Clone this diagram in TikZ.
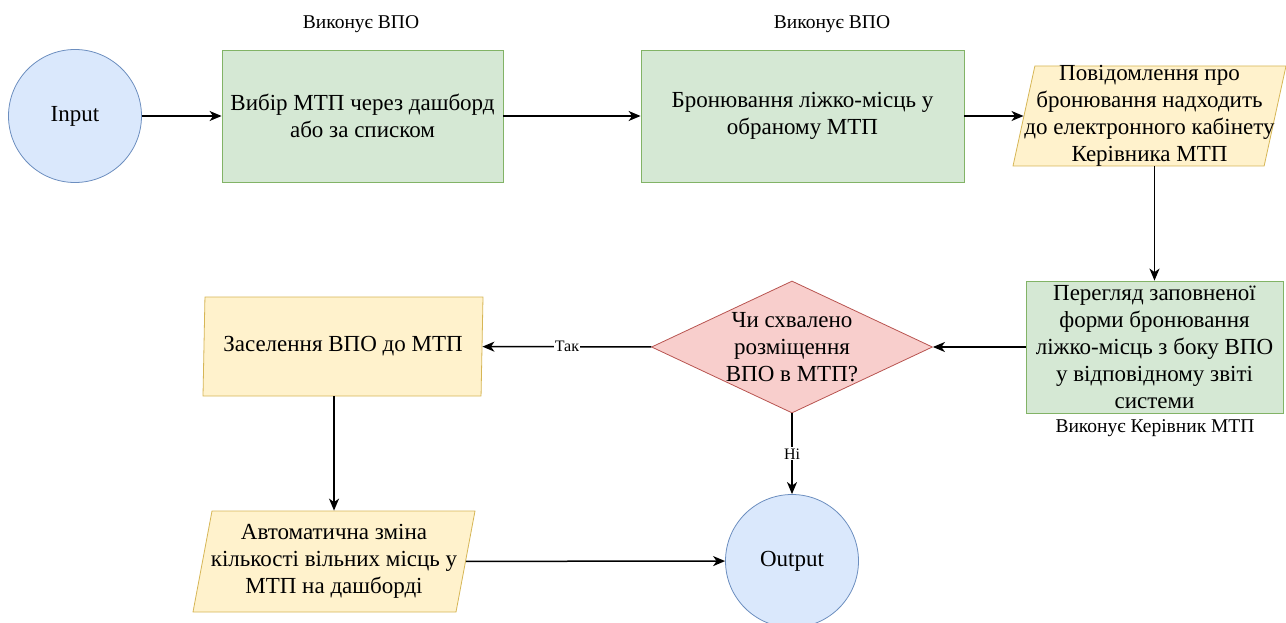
\documentclass[tikz,border=0pt]{standalone}
\usepackage{fontspec}
\setmainfont{Liberation Serif}
\usepackage{tikz}
\usetikzlibrary{arrows.meta}
\usetikzlibrary{shapes.geometric}

\definecolor{stepfill}{HTML}{D5E8D4}
\definecolor{stepline}{HTML}{82B366}
\definecolor{termfill}{HTML}{DAE8FC}
\definecolor{termline}{HTML}{6C8EBF}
\definecolor{iofill}{HTML}{FFF2CC}
\definecolor{ioline}{HTML}{D6B656}
\definecolor{askfill}{HTML}{F8CECC}
\definecolor{askline}{HTML}{B85450}

\begin{document}
\begin{tikzpicture}[->,>={Stealth[length=12pt,width=10pt,inset=3.5pt]},x=1pt,y=1pt,line width=1.5pt,
	box font/.style={font=\fontsize{23}{27}\selectfont},
	term node/.style={circle, draw=termline, fill=termfill, line width=0.8pt, minimum size=133, box font},
	step node/.style={rectangle, draw=stepline, fill=stepfill, line width=0.8pt, align=center, inner sep=0pt, box font},
	io node/.style={trapezium, trapezium stretches body, draw=ioline, fill=iofill, line width=0.8pt, align=center, inner xsep=-20pt, inner ysep=-5pt, box font},
	ask node/.style={diamond, draw=askline, fill=askfill, line width=0.8pt, align=center, inner xsep=-40pt, inner ysep=-30pt, minimum width=281, minimum height=132, box font},
	note/.style={font=\fontsize{19.5}{23}\selectfont},
	edge label/.style={fill=white, inner sep=1pt, font=\fontsize{16}{19}\selectfont}]

	\useasboundingbox (0,0) rectangle (1286,-623);

	% top row
	\node[term node] (1) at (75,-116) {Input};
	\node[step node, minimum width=281, minimum height=132] (2) at (362.5,-116) {Вибір МТП через дашборд\\або за списком};
	\node[step node, minimum width=323, minimum height=132] (3) at (802.5,-116) {Бронювання ліжко-місць у\\обраному МТП};
	\node[io node, trapezium left angle=76.5, trapezium right angle=103.5, minimum width=273, minimum height=100] (4) at (1149.5,-116) {Повідомлення про\\бронювання надходить\\до електронного кабінету\\Керівника МТП};

	% middle row
	\node[step node, minimum width=257, minimum height=132] (5) at (1154.5,-347) {Перегляд заповненої\\форми бронювання\\ліжко-місць з боку ВПО\\у відповідному звіті\\системи};
	\node[ask node] (6) at (792,-347) {Чи схвалено\\розміщення\\ВПО в МТП?};
	\node[io node, trapezium left angle=78.6, trapezium right angle=101.4, minimum width=280, minimum height=99] (7) at (343,-346.5) {Заселення ВПО до МТП};

	% bottom row
	\node[io node, trapezium left angle=73.5, trapezium right angle=106.5, minimum width=282, minimum height=101] (8) at (334,-561.5) {Автоматична зміна\\кількості вільних місць у\\МТП на дашборді};
	\node[term node] (9) at (792,-561) {Output};

	\node[note] (n1) at (361,-24) {Виконує ВПО};
	\node[note] (n2) at (832,-24) {Виконує ВПО};
	\node[note] (n3) at (1155,-428) {Виконує Керівник МТП};

	\draw (1) -- (2);
	\draw (2) -- (3);
	\draw (3) -- (4);
	\draw (4.south -| 5.north) -- (5.north);
	\draw (5) -- (6);
	\draw (6) -- node[edge label] {Так} (7);
	\draw (6) -- node[edge label] {Ні} (9);
	\draw (7.south -| 8.north) -- (8.north);
	\draw (8) -- (9);
\end{tikzpicture}
\end{document}
